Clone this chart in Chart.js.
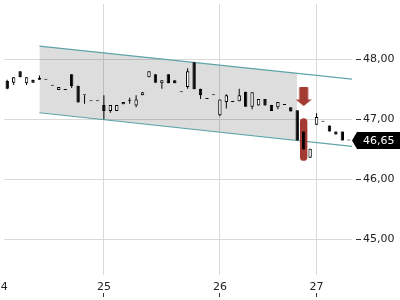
<!DOCTYPE html>
<html>
<head>
<meta charset="utf-8">
<script src="https://cdn.jsdelivr.net/npm/chart.js@4"></script>
<style>
  html, body { margin: 0; padding: 0; background: #fff; }
  #wrap { width: 400px; height: 300px; }
</style>
</head>
<body>
<div id="wrap"><canvas id="candleChart"></canvas></div>
<script>
// candle data, one entry per bar (index = position on x)
const opens  = [47.64, 47.61, 47.80, 47.60, 47.66, 47.66, 47.66, 47.56, 47.49, 47.49,
                47.75, 47.56, 47.40, 47.30, 47.30, 47.24, 47.14, 47.14, 47.25, 47.31,
                47.23, 47.40, 47.70, 47.75, 47.60, 47.75, 47.65, 47.45, 47.54, 47.95,
                47.51, 47.34, 47.40, 47.07, 47.29, 47.29, 47.30, 47.46, 47.21, 47.23,
                47.34, 47.24, 47.20, 47.24, 47.20, 47.15, 46.80, 46.36, 46.91, 46.96,
                46.90, 46.80, 46.80, 46.65];
const highs  = [47.66, 47.70, 47.80, 47.70, 47.66, 47.73, 47.66, 47.56, 47.54, 47.49,
                47.75, 47.56, 47.40, 47.30, 47.30, 47.40, 47.24, 47.24, 47.29, 47.36,
                47.40, 47.45, 47.80, 47.75, 47.65, 47.75, 47.65, 47.45, 47.85, 47.95,
                47.51, 47.34, 47.40, 47.33, 47.42, 47.29, 47.51, 47.46, 47.45, 47.34,
                47.34, 47.24, 47.29, 47.24, 47.20, 47.15, 46.80, 46.51, 47.10, 46.96,
                46.90, 46.80, 46.80, 46.65];
const lows   = [47.50, 47.57, 47.70, 47.57, 47.61, 47.66, 47.66, 47.56, 47.49, 47.49,
                47.52, 47.28, 47.26, 47.30, 47.30, 47.00, 47.11, 47.14, 47.25, 47.26,
                47.20, 47.40, 47.70, 47.61, 47.51, 47.60, 47.60, 47.45, 47.51, 47.50,
                47.34, 47.34, 47.40, 47.05, 47.18, 47.29, 47.30, 47.21, 47.17, 47.23,
                47.23, 47.14, 47.17, 47.24, 47.13, 46.65, 46.50, 46.36, 46.91, 46.96,
                46.80, 46.75, 46.65, 46.65];
const closes = [47.51, 47.70, 47.70, 47.70, 47.61, 47.69, 47.66, 47.56, 47.54, 47.49,
                47.55, 47.28, 47.40, 47.30, 47.30, 47.14, 47.24, 47.24, 47.29, 47.31,
                47.33, 47.45, 47.80, 47.61, 47.65, 47.60, 47.60, 47.45, 47.80, 47.50,
                47.40, 47.34, 47.40, 47.33, 47.40, 47.29, 47.40, 47.21, 47.45, 47.34,
                47.23, 47.14, 47.29, 47.24, 47.13, 46.65, 46.50, 46.51, 47.04, 46.96,
                46.80, 46.75, 46.65, 46.65];

// day separators (bar index of first bar of the day)
const dayLabels = ['24', '25', '26', '27'];
const dayStart  = [-1, 15, 33, 48];

// trend channel (index, price)
const channelX      = [5, 53.5];
const channelTop    = [48.22, 47.67];
const channelBottom = [47.11, 46.55];
const shadeX        = [5, 45];
const shadeTop      = [48.22, 47.77];
const shadeBottom   = [47.11, 46.66];

// highlighted bar and signal arrow
const highlightIndex = 46;
const highlightRange = [46.31, 47.02];
const arrowPoint = { x: 46, y: 47.38 };

const yTicks = [45, 46, 47, 48];
const xMin = -0.5, xMax = 53.5;
const yMin = 44.41, yMax = 48.92;

const red = '#a33b32';
const teal = '#5fa4a9';

Chart.defaults.font.family = 'DejaVu Sans';
Chart.defaults.font.size = 11;
Chart.defaults.color = '#222';

function fmt(v) {
  return v.toFixed(2).replace('.', ',');
}

// arrow drawn once on a small canvas, used as point style
const arrowImg = document.createElement('canvas');
arrowImg.width = 16;
arrowImg.height = 19;
(function() {
  const c = arrowImg.getContext('2d');
  c.fillStyle = red;
  c.beginPath();
  c.moveTo(3.5, 1);
  c.quadraticCurveTo(3.5, 0, 4.5, 0);
  c.lineTo(11.5, 0);
  c.quadraticCurveTo(12.5, 0, 12.5, 1);
  c.lineTo(12.5, 12.5);
  c.lineTo(16, 12.5);
  c.lineTo(8, 19);
  c.lineTo(0, 12.5);
  c.lineTo(3.5, 12.5);
  c.closePath();
  c.fill();
})();

const priceTag = {
  id: 'priceTag',
  afterDraw(chart) {
    const ctx = chart.ctx;
    const area = chart.chartArea;
    const y = chart.scales.y.getPixelForValue(closes[closes.length - 1]);
    const x = area.right;
    ctx.save();
    ctx.fillStyle = '#000';
    ctx.beginPath();
    ctx.moveTo(x, y);
    ctx.lineTo(x + 5, y - 8.5);
    ctx.lineTo(chart.width, y - 8.5);
    ctx.lineTo(chart.width, y + 8.5);
    ctx.lineTo(x + 5, y + 8.5);
    ctx.closePath();
    ctx.fill();
    ctx.fillStyle = '#fff';
    ctx.font = '11px "DejaVu Sans"';
    ctx.textAlign = 'left';
    ctx.textBaseline = 'middle';
    ctx.fillText(fmt(closes[closes.length - 1]), x + 11, y + 0.5);

    // day label that sits left of the visible range
    const xs = chart.scales.x;
    ctx.fillStyle = '#222';
    ctx.textAlign = 'center';
    dayStart.forEach((d, i) => {
      if (d < xMin) {
        ctx.fillText(dayLabels[i], xs.getPixelForValue(d), area.bottom + 12.5);
      }
    });
    ctx.restore();
  }
};

function noPad(scale) {
  scale.paddingTop = 0;
  scale.paddingBottom = 0;
  scale.paddingLeft = 0;
  scale.paddingRight = 0;
}

const ctx = document.getElementById('candleChart').getContext('2d');
const chart = new Chart(ctx, {
  type: 'bar',
  data: {
    datasets: [
      {
        // bodies
        data: opens.map((o, i) => ({ x: i, y: [o, closes[i]] })),
        backgroundColor: opens.map((o, i) => closes[i] > o ? '#fff' : '#000'),
        borderColor: '#000',
        borderWidth: 1,
        borderSkipped: false,
        maxBarThickness: 3.4,
        minBarLength: 1,
        grouped: false,
        order: 1
      },
      {
        // wicks
        data: lows.map((l, i) => ({ x: i, y: [l, highs[i]] })),
        backgroundColor: '#000',
        borderWidth: 0,
        maxBarThickness: 1,
        grouped: false,
        order: 2
      },
      {
        data: [{ x: highlightIndex, y: highlightRange }],
        backgroundColor: red,
        borderWidth: 0,
        borderRadius: 4,
        borderSkipped: false,
        categoryPercentage: 1,
        barPercentage: 1.15,
        grouped: false,
        order: 3
      },
      {
        type: 'line',
        data: channelX.map((x, i) => ({ x: x, y: channelTop[i] })),
        borderColor: teal,
        borderWidth: 1.2,
        pointRadius: 0,
        fill: false,
        order: 4
      },
      {
        type: 'line',
        data: channelX.map((x, i) => ({ x: x, y: channelBottom[i] })),
        borderColor: teal,
        borderWidth: 1.2,
        pointRadius: 0,
        fill: false,
        order: 4
      },
      {
        type: 'line',
        data: shadeX.map((x, i) => ({ x: x, y: shadeTop[i] })),
        borderWidth: 0,
        pointRadius: 0,
        backgroundColor: 'rgba(0,0,0,0.135)',
        fill: '+1',
        order: 5
      },
      {
        type: 'line',
        data: shadeX.map((x, i) => ({ x: x, y: shadeBottom[i] })),
        borderWidth: 0,
        pointRadius: 0,
        fill: false,
        order: 5
      },
      {
        type: 'line',
        data: [arrowPoint],
        showLine: false,
        borderWidth: 0,
        pointStyle: arrowImg,
        pointRadius: 0.5,
        pointBorderWidth: 0,
        pointHitRadius: 0,
        order: 0
      }
    ]
  },
  options: {
    responsive: true,
    maintainAspectRatio: false,
    animation: false,
    layout: { padding: 0 },
    plugins: {
      legend: { display: false },
      tooltip: { enabled: false }
    },
    scales: {
      x: {
        type: 'linear',
        min: xMin,
        max: xMax,
        offset: false,
        border: { display: false },
        grid: {
          offset: false,
          color: '#d9d9d9',
          tickLength: 22,
          tickColor: '#333',
          tickBorderDash: [0, 18, 4, 50]
        },
        afterBuildTicks: (scale) => {
          scale.ticks = dayStart.filter(d => d >= xMin).map(d => ({ value: d }));
        },
        afterFit: (scale) => { scale.height = 25; noPad(scale); },
        ticks: {
          autoSkip: false,
          maxRotation: 0,
          padding: -16,
          callback: (value) => dayLabels[dayStart.indexOf(value)]
        }
      },
      y: {
        position: 'right',
        min: yMin,
        max: yMax,
        border: { display: false },
        grid: {
          color: '#d9d9d9',
          tickLength: 9,
          tickColor: '#333',
          tickBorderDash: [0, 4, 5, 50]
        },
        afterBuildTicks: (scale) => {
          scale.ticks = yTicks.map(v => ({ value: v }));
        },
        afterFit: (scale) => { scale.width = 48; noPad(scale); },
        ticks: {
          padding: 2,
          callback: (value) => fmt(value)
        }
      }
    }
  },
  plugins: [priceTag]
});
</script>
</body>
</html>
